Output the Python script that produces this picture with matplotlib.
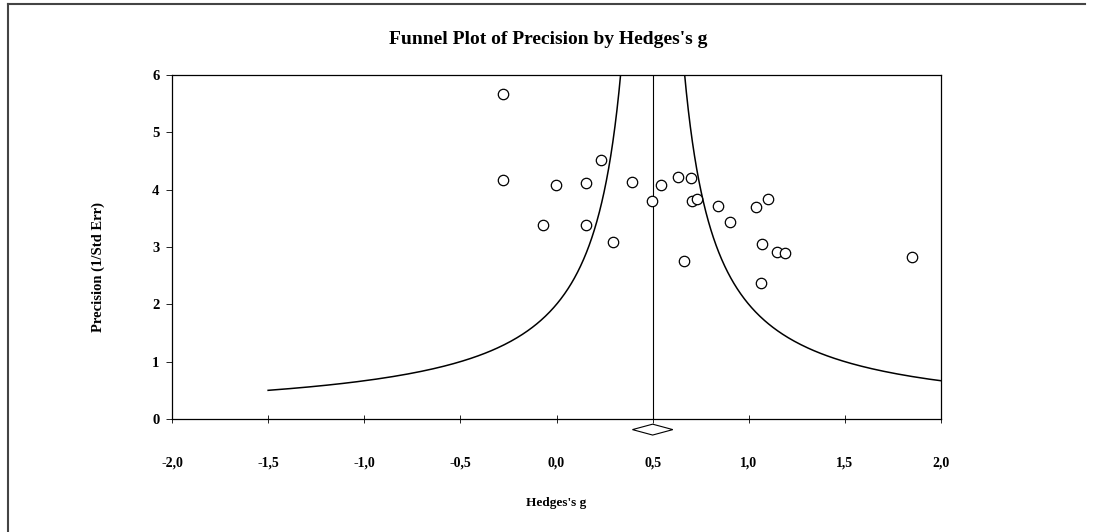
import numpy as np
import matplotlib
matplotlib.use("Agg")
import matplotlib.pyplot as plt
from matplotlib.lines import Line2D
from matplotlib.patches import Polygon

plt.rcParams['font.family'] = ['Liberation Serif', 'DejaVu Serif']

# study effect sizes (Hedges's g) and precision (1/SE)
hedges_g = [-0.278, -0.277, -0.003, 0.155, 0.232, 0.394, -0.070, 0.152, 0.294,
            0.495, 0.545, 0.634, 0.701, 0.706, 0.732, 0.665, 0.842, 0.902,
            1.038, 1.102, 1.071, 1.064, 1.145, 1.190, 1.847]
precision = [5.67, 4.16, 4.08, 4.11, 4.51, 4.14, 3.39, 3.38, 3.08,
             3.81, 4.08, 4.22, 4.20, 3.81, 3.84, 2.75, 3.71, 3.43,
             3.69, 3.84, 3.05, 2.38, 2.92, 2.90, 2.83]
mean_g = 0.5
funnel_k = 1.0
ci_low, ci_high = 0.395, 0.605

xticks = [-2.0, -1.5, -1.0, -0.5, 0.0, 0.5, 1.0, 1.5, 2.0]
xticklabels = ["-2,0", "-1,5", "-1,0", "-0,5", "0,0", "0,5", "1,0", "1,5", "2,0"]
yticks = [0, 1, 2, 3, 4, 5, 6]

fig = plt.figure(figsize=(10.95, 5.32), dpi=100)
ax = fig.add_axes([172/1095, 113/532, 769/1095, 344/532])

# funnel lines
prec = np.linspace(0.5, 6.5, 400)
ax.plot(mean_g - funnel_k/prec, prec, color='black', lw=1.1)
ax.plot(mean_g + funnel_k/prec, prec, color='black', lw=1.1)
ax.axvline(mean_g, color='black', lw=0.8)

ax.plot(hedges_g, precision, 'o', mfc='white', mec='black', mew=0.9, ms=7.5, ls='none')

# summary diamond under the axis
dia = Polygon([[ci_low, -0.185], [mean_g, -0.09], [ci_high, -0.185], [mean_g, -0.28]],
              closed=True, fc='white', ec='black', lw=0.8, clip_on=False)
ax.add_patch(dia)

ax.set_xlim(-2, 2)
ax.set_ylim(0, 6)
ax.set_xticks(xticks)
ax.set_xticklabels(xticklabels)
ax.set_yticks(yticks)
ax.tick_params(axis='x', direction='inout', length=6, width=0.6, pad=24, labelsize=10)
ax.tick_params(axis='y', direction='out', length=4, width=0.6, pad=5, labelsize=10.5)
for lab in ax.get_xticklabels() + ax.get_yticklabels():
    lab.set_fontweight('bold')
for s in ax.spines.values():
    s.set_linewidth(0.9)

ax.set_xlabel("Hedges's g", fontsize=9.5, fontweight='bold', va='center')
ax.xaxis.set_label_coords(0.5, (419 - 503) / 344)
ax.set_ylabel("Precision (1/Std Err)", fontsize=10.5, fontweight='bold', va='center')
ax.yaxis.set_label_coords((98 - 172) / 769, (419 - 267) / 344)
fig.text(548/1095, 1 - 40/532, "Funnel Plot of Precision by Hedges's g",
         ha='center', va='center', fontsize=14, fontweight='bold')

# partial frame around the figure
fig.add_artist(Line2D([7.5/1095, 7.5/1095], [0, 1 - 4/532], color='#444444', lw=1.5))
fig.add_artist(Line2D([7.5/1095, 1085/1095], [1 - 4/532, 1 - 4/532], color='#444444', lw=1.5))

fig.savefig("out.png", dpi=100)
